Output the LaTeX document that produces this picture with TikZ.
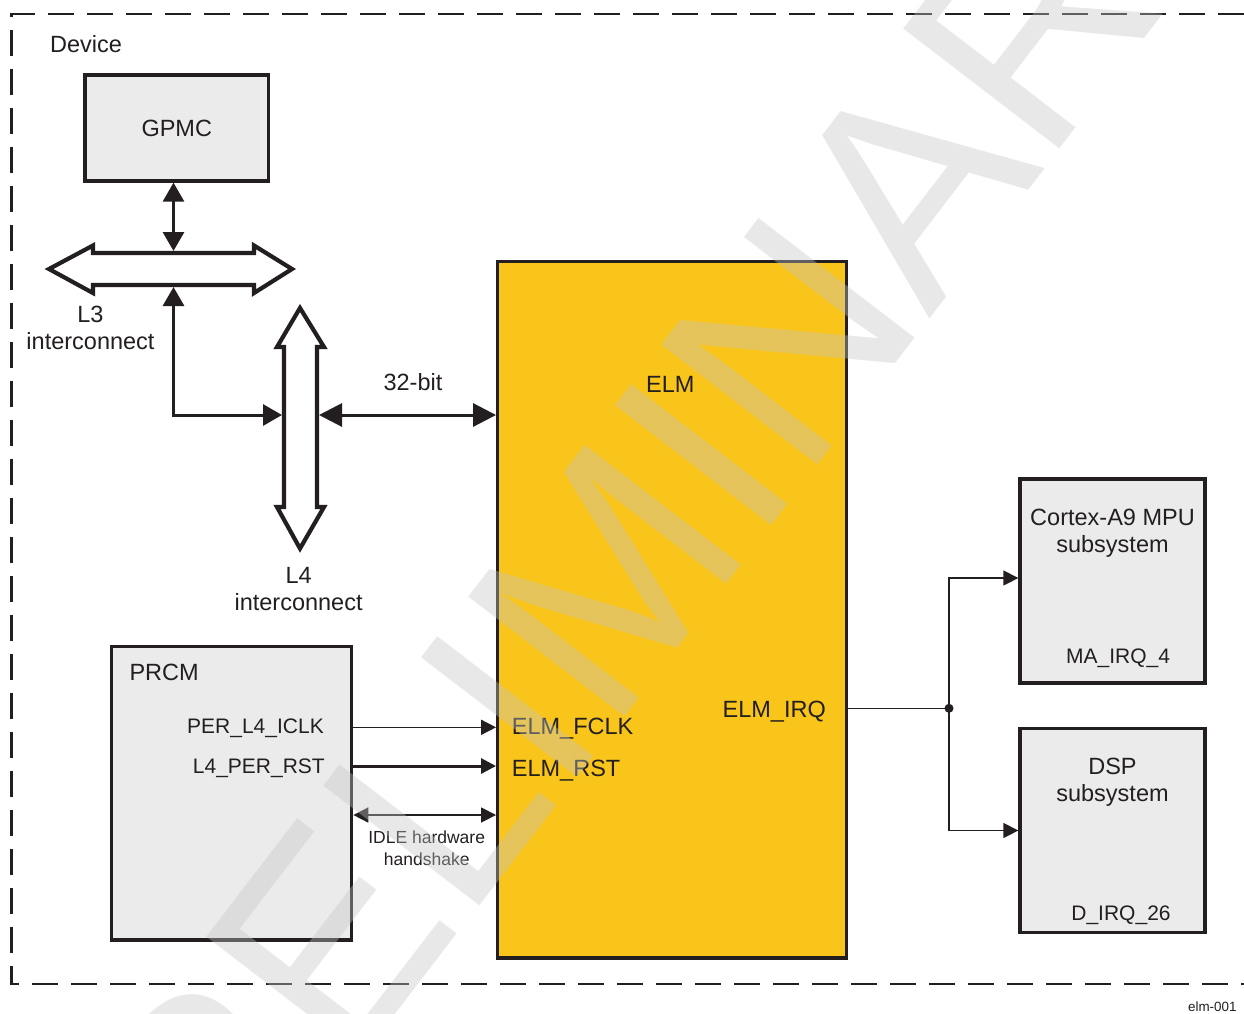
\documentclass[tikz,border=0pt]{standalone}
\usepackage{fontspec}
\setmainfont{Liberation Sans}
\usetikzlibrary{arrows.meta}
\definecolor{dk}{RGB}{35,31,32}
\definecolor{boxgray}{RGB}{235,235,235}
\definecolor{elmyellow}{RGB}{249,197,27}
\definecolor{wm}{RGB}{197,197,197}
\begin{document}
\begin{tikzpicture}[x=1pt,y=-1pt,
  box/.style={draw=dk, line width=3.3pt, fill=boxgray, inner sep=0pt, text=dk, font=\fontsize{23.5}{26}\selectfont},
  txt/.style={text=dk, inner sep=0pt, font=\fontsize{23.5}{26.5}\selectfont},
  sig/.style={text=dk, inner sep=0pt, font=\fontsize{21}{24}\selectfont},
  small/.style={text=dk, inner sep=0pt, font=\fontsize{17.5}{21.7}\selectfont},
  tiny/.style={text=dk, inner sep=0pt, font=\fontsize{13.4}{16}\selectfont},
  bus/.style={draw=dk, line width=4.2pt, fill=white, line join=miter},
  bigarr/.style={draw=dk, line width=3pt, >={Triangle[length=19pt,width=21pt]}},
  arrbit/.style={draw=dk, line width=3pt, >={Triangle[length=23pt,width=23pt]}},
  thinarr/.style={draw=dk, line width=1.6pt, >={Triangle[length=15pt,width=15pt]}},
  rstarr/.style={draw=dk, line width=3pt, >={Triangle[length=15pt,width=15pt]}},
  irqline/.style={draw=dk, line width=1.3pt, >={Triangle[length=15pt,width=15pt]}},
  border/.style={draw=dk, line width=2.8pt, dash pattern=on 26pt off 13pt}
]
\useasboundingbox[fill=white] (0,0) rectangle (1244,1013);

% device border
\draw[border] (1244,14) -- (11.7,14) -- (11.7,984) -- (1244,984);
\node[txt, anchor=base west] (device) at (50,52) {Device};

% boxes
\node[box, minimum width=183.5pt, minimum height=106pt] (gpmc) at (176.75,128) {GPMC};
\node[box, fill=elmyellow, minimum width=348.6pt, minimum height=696.3pt] (elm) at (672,609.85) {};
\node[box, minimum width=240pt, minimum height=293.3pt] (prcm) at (231.7,793.3) {};
\node[box, minimum width=185pt, minimum height=204pt] (cortex) at (1112.5,581) {};
\node[box, minimum width=185pt, minimum height=203.5pt] (dsp) at (1112.5,830.5) {};

% L3 bus
\draw[bus] (49,269) -- (93,245.5) -- (93,253) -- (254,253) -- (254,245.5) -- (292,269)
  -- (254,293) -- (254,285) -- (93,285) -- (93,293) -- cycle;
\coordinate (l3t) at (173.5,251);
\coordinate (l3b) at (173.5,287);
% L4 bus
\draw[bus] (300,308) -- (324,347) -- (317,347) -- (317,507) -- (324,507) -- (300,548.5)
  -- (277,507) -- (284,507) -- (284,347) -- (277,347) -- cycle;
\coordinate (l4l) at (282,415);
\coordinate (l4r) at (319,415);

% bus connections
\draw[bigarr, <->] (gpmc.south -| l3t) -- (l3t);
\draw[bigarr, <->] (l3b) |- (l4l);
\draw[arrbit, <->] (l4r) -- (elm.west |- l4r);

% labels
\node[txt, align=center, anchor=north] (l3lbl) at (90.5,306.2) {L3\\interconnect};
\node[txt, align=center, anchor=north] (l4lbl) at (298.6,567.2) {L4\\interconnect};
\node[txt, anchor=base] (bitlbl) at (413,390) {32-bit};
\node[txt, anchor=base] (elmlbl) at (670.3,392.7) {ELM};
\node[txt, anchor=base east] (irqlbl) at (826,717.7) {ELM\_IRQ};
\node[txt, anchor=base west] (fclklbl) at (511.7,734) {ELM\_FCLK};
\node[txt, anchor=base west] (rstlbl) at (511.7,776) {ELM\_RST};
\node[txt, anchor=base west] (prcmlbl) at (129.3,680) {PRCM};
\node[sig, anchor=base east] (iclklbl) at (324,733) {PER\_L4\_ICLK};
\node[sig, anchor=base east] (perrstlbl) at (325,773) {L4\_PER\_RST};
\node[small, align=center, anchor=north] (idlelbl) at (426.7,830.8) {IDLE hardware\\handshake};
\node[txt, align=center, anchor=north] (cortexlbl) at (1112.5,509.2) {Cortex-A9 MPU\\subsystem};
\node[sig, anchor=base] (mairq) at (1118,663) {MA\_IRQ\_4};
\node[txt, align=center, anchor=north] (dsplbl) at (1112.5,758.2) {DSP\\subsystem};
\node[sig, anchor=base] (dirq) at (1121,920) {D\_IRQ\_26};
\node[tiny, anchor=base east] (fig) at (1236.7,1011) {elm-001};

% PRCM -> ELM signals
\coordinate (iclk) at (420,727.3);
\coordinate (rst) at (420,766);
\coordinate (idle) at (420,815);
\draw[thinarr, ->] (prcm.east |- iclk) -- (elm.west |- iclk);
\draw[rstarr, ->] (prcm.east |- rst) -- (elm.west |- rst);
\draw[thinarr, <->] (prcm.east |- idle) -- (elm.west |- idle);

% IRQ fan-out
\coordinate (j) at (949,708.3);
\draw[irqline] (elm.east |- j) -- (j);
\draw[irqline, ->] (j) |- ([yshift=3pt]cortex.west);
\draw[irqline, ->] (j) |- (dsp.west);
\fill[dk] (j) circle[radius=4.5pt];

% watermark
\begin{scope}
\clip (0,0) rectangle (1244,1013);
\node[rotate=52.5, anchor=base west, inner sep=0pt, text=wm, text opacity=0.38,
  font=\fontsize{286}{290}\selectfont] (wmark) at (107,1391) {PRELIMINARY};
\end{scope}
\end{tikzpicture}
\end{document}
